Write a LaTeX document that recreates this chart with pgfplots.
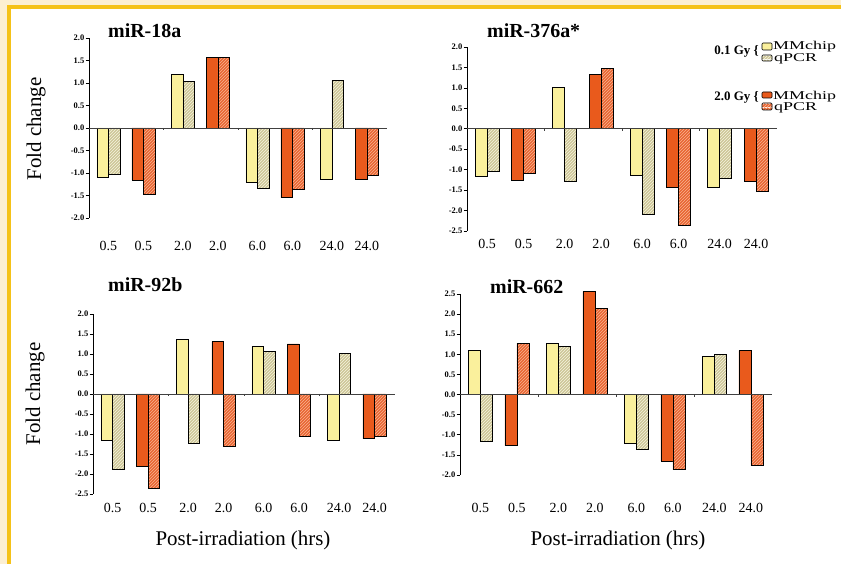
\documentclass[border=0pt]{standalone}
\usepackage{pgfplots}
\pgfplotsset{compat=1.18}
\usetikzlibrary{patterns}
\usepackage{fontspec}
\setmainfont{Liberation Serif}
\definecolor{cream}{HTML}{FCEFD2}
\definecolor{framey}{HTML}{F5C218}
\definecolor{ylw}{HTML}{FAF09C}
\definecolor{tanq}{HTML}{C8C08E}
\definecolor{org}{HTML}{E95A1C}
\definecolor{orgq}{HTML}{E65A26}
\definecolor{stripeY}{HTML}{EEEBD2}
\definecolor{stripeO}{HTML}{F5A680}
\pgfdeclarepatterninherentlycolored{hatchY}{\pgfpointorigin}{\pgfpoint{3.4pt}{3.4pt}}{\pgfpoint{3.4pt}{3.4pt}}{%
  \pgfsetcolor{tanq}\pgfpathrectangle{\pgfpointorigin}{\pgfpoint{3.4pt}{3.4pt}}\pgfusepath{fill}%
  \pgfsetcolor{stripeY}\pgfsetlinewidth{1.0pt}%
  \pgfpathmoveto{\pgfpoint{-1pt}{-1pt}}\pgfpathlineto{\pgfpoint{4.4pt}{4.4pt}}%
  \pgfpathmoveto{\pgfpoint{-1pt}{2.4pt}}\pgfpathlineto{\pgfpoint{1pt}{4.4pt}}%
  \pgfpathmoveto{\pgfpoint{2.4pt}{-1pt}}\pgfpathlineto{\pgfpoint{4.4pt}{1pt}}%
  \pgfusepath{stroke}}
\pgfdeclarepatterninherentlycolored{hatchO}{\pgfpointorigin}{\pgfpoint{3.4pt}{3.4pt}}{\pgfpoint{3.4pt}{3.4pt}}{%
  \pgfsetcolor{orgq}\pgfpathrectangle{\pgfpointorigin}{\pgfpoint{3.4pt}{3.4pt}}\pgfusepath{fill}%
  \pgfsetcolor{stripeO}\pgfsetlinewidth{1.0pt}%
  \pgfpathmoveto{\pgfpoint{-1pt}{-1pt}}\pgfpathlineto{\pgfpoint{4.4pt}{4.4pt}}%
  \pgfpathmoveto{\pgfpoint{-1pt}{2.4pt}}\pgfpathlineto{\pgfpoint{1pt}{4.4pt}}%
  \pgfpathmoveto{\pgfpoint{2.4pt}{-1pt}}\pgfpathlineto{\pgfpoint{4.4pt}{1pt}}%
  \pgfusepath{stroke}}
\pgfplotsset{
  panel/.style={
    scale only axis, anchor=south west,
    xmin=-0.5, xmax=3.5,
    axis x line=bottom, axis y line=left,
    x axis line style={draw=none},
    y axis line style={-, black, line width=0.6pt},
    xtick={-0.24,0.23,0.76,1.23,1.76,2.23,2.76,3.23},
    xticklabels={0.5,0.5,2.0,2.0,6.0,6.0,24.0,24.0},
    xtick style={draw=none},
    xticklabel style={font=\fontsize{14}{14}\selectfont, anchor=center},
    ytick align=outside,
    ytick style={black, line width=0.6pt},
    major tick length=3.5bp,
    yticklabel style={font=\fontsize{8.5}{9}\selectfont\bfseries, inner sep=1pt},
    ybar, bar width=0.154,
    clip=false,
  },
  mmA/.style={fill=ylw, draw=black, line width=0.6pt, bar shift=0pt},
  qA/.style={pattern=hatchY, draw=black, line width=0.6pt, bar shift=0pt},
  mmB/.style={fill=org, draw=black, line width=0.6pt, bar shift=0pt},
  qB/.style={pattern=hatchO, draw=black, line width=0.6pt, bar shift=0pt},
}
\newcommand\zeroline{%
  \draw[black!75, line width=0.6pt] (axis cs:-0.5,0) -- (axis cs:3.5,0);
  \draw[black!75, line width=0.5pt] (axis cs:0.5,0) -- (axis cs:0.5,-0.05);
  \draw[black!75, line width=0.5pt] (axis cs:1.5,0) -- (axis cs:1.5,-0.05);
  \draw[black!75, line width=0.5pt] (axis cs:2.5,0) -- (axis cs:2.5,-0.05);
}
\begin{document}
\begin{tikzpicture}[x=1bp,y=1bp]
\fill[cream] (0,0) rectangle (841,564);
\fill[framey] (7,0) rectangle (841,559);
\fill[white] (11,0) rectangle (841,555);

% ---------- miR-18a ----------
\begin{axis}[panel, at={(89bp,346bp)}, width=298bp, height=180bp,
  ymin=-2, ymax=2, ytick={-2,-1.5,...,2},
  yticklabels={-2.0,-1.5,-1.0,-0.5,0.0,0.5,1.0,1.5,2.0},
  xticklabel style={yshift=-24bp}]
\addplot[mmA] coordinates {(-0.318,-1.10) (0.682,1.19) (1.682,-1.20) (2.682,-1.15)};
\addplot[qA]  coordinates {(-0.163,-1.02) (0.837,1.04) (1.837,-1.33) (2.837,1.06)};
\addplot[mmB] coordinates {(0.152,-1.16) (1.152,1.56) (2.152,-1.55) (3.152,-1.15)};
\addplot[qB]  coordinates {(0.307,-1.48) (1.307,1.56) (2.307,-1.36) (3.307,-1.06)};
\zeroline
\end{axis}

% ---------- miR-376a* ----------
\begin{axis}[panel, at={(467bp,333bp)}, width=310bp, height=184bp,
  ymin=-2.5, ymax=2, ytick={-2.5,-2,...,2},
  yticklabels={-2.5,-2.0,-1.5,-1.0,-0.5,0.0,0.5,1.0,1.5,2.0},
  xticklabel style={yshift=-9bp}]
\addplot[mmA] coordinates {(-0.318,-1.17) (0.682,1.01) (1.682,-1.15) (2.682,-1.44)};
\addplot[qA]  coordinates {(-0.163,-1.04) (0.837,-1.28) (1.837,-2.10) (2.837,-1.20)};
\addplot[mmB] coordinates {(0.152,-1.27) (1.152,1.33) (2.152,-1.44) (3.152,-1.29)};
\addplot[qB]  coordinates {(0.307,-1.09) (1.307,1.47) (2.307,-2.37) (3.307,-1.52)};
\zeroline
\end{axis}

% ---------- miR-92b ----------
\begin{axis}[panel, at={(93bp,70bp)}, width=302bp, height=180bp,
  ymin=-2.5, ymax=2, ytick={-2.5,-2,...,2},
  yticklabels={-2.5,-2.0,-1.5,-1.0,-0.5,0.0,0.5,1.0,1.5,2.0},
  xticklabel style={yshift=-10bp}]
\addplot[mmA] coordinates {(-0.318,-1.16) (0.682,1.36) (1.682,1.19) (2.682,-1.15)};
\addplot[qA]  coordinates {(-0.163,-1.88) (0.837,-1.23) (1.837,1.06) (2.837,1.02)};
\addplot[mmB] coordinates {(0.152,-1.82) (1.152,1.31) (2.152,1.25) (3.152,-1.12)};
\addplot[qB]  coordinates {(0.307,-2.35) (1.307,-1.31) (2.307,-1.05) (3.307,-1.05)};
\zeroline
\end{axis}

% ---------- miR-662 ----------
\begin{axis}[panel, at={(460bp,89bp)}, width=312bp, height=181bp,
  ymin=-2, ymax=2.5, ytick={-2,-1.5,...,2.5},
  yticklabels={-2.0,-1.5,-1.0,-0.5,0.0,0.5,1.0,1.5,2.0,2.5},
  xticklabel style={yshift=-29bp}]
\addplot[mmA] coordinates {(-0.318,1.09) (0.682,1.27) (1.682,-1.21) (2.682,0.94)};
\addplot[qA]  coordinates {(-0.163,-1.15) (0.837,1.19) (1.837,-1.35) (2.837,1.00)};
\addplot[mmB] coordinates {(0.152,-1.27) (1.152,2.56) (2.152,-1.65) (3.152,1.09)};
\addplot[qB]  coordinates {(0.307,1.27) (1.307,2.15) (2.307,-1.87) (3.307,-1.77)};
\zeroline
\end{axis}

% titles
\node[anchor=base west, font=\fontsize{20}{20}\selectfont\bfseries, inner sep=0] at (108,526) {miR-18a};
\node[anchor=base west, font=\fontsize{20}{20}\selectfont\bfseries, inner sep=0] at (487,526) {miR-376a*};
\node[anchor=base west, font=\fontsize{20}{20}\selectfont\bfseries, inner sep=0] at (108,272) {miR-92b};
\node[anchor=base west, font=\fontsize{20}{20}\selectfont\bfseries, inner sep=0] at (490,270) {miR-662};
% axis labels
\node[rotate=90, font=\fontsize{21}{21}\selectfont, inner sep=0] at (36,435) {Fold change};
\node[rotate=90, font=\fontsize{21}{21}\selectfont, inner sep=0] at (35,170) {Fold change};
\node[anchor=base, font=\fontsize{21}{21}\selectfont, inner sep=0] at (243,18) {Post-irradiation (hrs)};
\node[anchor=base, font=\fontsize{21}{21}\selectfont, inner sep=0] at (618,18) {Post-irradiation (hrs)};
% legend
\node[anchor=base east, font=\fontsize{13}{13}\selectfont\bfseries, inner sep=0] at (759,509) {0.1 Gy \{};
\node[anchor=base east, font=\fontsize{13}{13}\selectfont\bfseries, inner sep=0] at (759,463) {2.0 Gy \{};
\draw[fill=ylw, line width=0.6pt, rounded corners=1bp] (762,514) rectangle (772,521);
\draw[pattern=hatchY, line width=0.6pt, rounded corners=1bp] (762,503) rectangle (772,509);
\draw[fill=org, line width=0.6pt, rounded corners=1bp] (762,466) rectangle (772,472);
\draw[pattern=hatchO, line width=0.6pt, rounded corners=1bp] (762,454) rectangle (772,461);
\node[anchor=base west, font=\fontsize{12}{12}\selectfont, inner sep=0] at (773,514) {\scalebox{1.5}[1]{MMchip}};
\node[anchor=base west, font=\fontsize{12}{12}\selectfont, inner sep=0] at (774,502) {\scalebox{1.5}[1]{qPCR}};
\node[anchor=base west, font=\fontsize{12}{12}\selectfont, inner sep=0] at (773,464) {\scalebox{1.5}[1]{MMchip}};
\node[anchor=base west, font=\fontsize{12}{12}\selectfont, inner sep=0] at (774,453) {\scalebox{1.5}[1]{qPCR}};
\pgfresetboundingbox
\useasboundingbox (0,0) rectangle (841,564);
\end{tikzpicture}
\end{document}
